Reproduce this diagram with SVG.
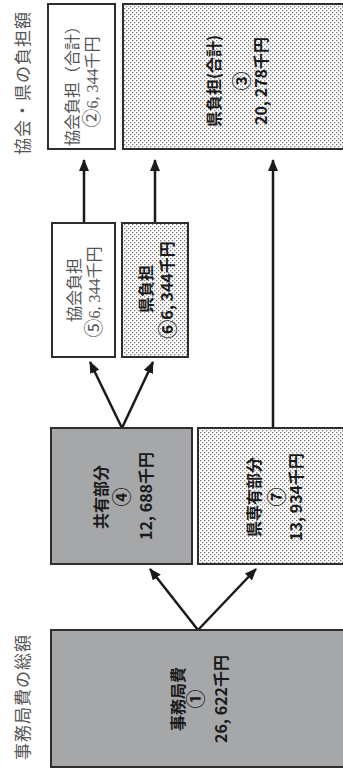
<svg xmlns="http://www.w3.org/2000/svg" width="343" height="769" viewBox="0 0 343 769">
<defs>
<pattern id="dots" width="4" height="4" patternUnits="userSpaceOnUse">
<rect width="4" height="4" fill="#ffffff"/>
<rect x="0" y="0" width="1.3" height="1.3" fill="#7a7a7a"/>
<rect x="2" y="2" width="1.3" height="1.3" fill="#7a7a7a"/>
</pattern>
<marker id="ah" markerUnits="userSpaceOnUse" markerWidth="12" markerHeight="10" refX="11" refY="5" orient="auto">
<path d="M0,0 L12,5 L0,10 z" fill="#1a1a1a"/>
</marker>
<style>
.box{stroke:#2e2e2e;stroke-width:2}
.white{fill:#ffffff}
.dot{fill:url(#dots)}
.gray{fill:#a6a7a9}
.conn{stroke:#1a1a1a;stroke-width:2.5;fill:none;marker-end:url(#ah)}
.title{font-family:"Liberation Serif","Noto Sans CJK JP",serif;font-size:17px;fill:#555555;letter-spacing:1px}
.ser{font-family:"Liberation Serif","Noto Sans CJK JP",serif;font-size:16px;fill:#555555}
.bold{font-family:"Noto Sans CJK JP",sans-serif;font-size:16px;font-weight:bold;fill:#1a1a1a}
.circ{font-size:19px}
text{text-anchor:middle;dominant-baseline:central}
</style>
</defs>
<g id="title-top"><text class="title" transform="translate(23,83) rotate(-90)">協会・県の負担額</text></g>
<g id="title-bottom"><text class="title" transform="translate(23,697) rotate(-90)">事務局費の総額</text></g>

<g id="connectors">
<line class="conn" x1="84" y1="223" x2="84" y2="160"/>
<line class="conn" x1="155" y1="223" x2="155" y2="160"/>
<line class="conn" x1="273" y1="428" x2="273" y2="160"/>
<line class="conn" x1="122" y1="428" x2="90" y2="362"/>
<line class="conn" x1="122" y1="428" x2="153" y2="362"/>
<line class="conn" x1="198" y1="630" x2="150" y2="569"/>
<line class="conn" x1="198" y1="630" x2="256" y2="569"/>
</g>

<g id="kyokai-total">
<rect class="box white" x="48" y="4" width="67" height="145"/>
<text class="ser" transform="translate(72,82) rotate(-90)">協会負担（合計）</text>
<text class="ser" transform="translate(92,82) rotate(-90)"><tspan class="circ">②</tspan>6, 344千円</text>
</g>
<g id="ken-total">
<rect class="box dot" x="123" y="4" width="232" height="145"/>
<text class="bold" transform="translate(213,81) rotate(-90)">県負担(合計)</text>
<text class="bold circ" transform="translate(240,81) rotate(-90)">③</text>
<text class="bold" transform="translate(260,81) rotate(-90)">20, 278千円</text>
</g>
<g id="kyokai-share">
<rect class="box white" x="52" y="223" width="63" height="134"/>
<text class="ser" transform="translate(74,290) rotate(-90)">協会負担</text>
<text class="ser" transform="translate(94,292) rotate(-90)"><tspan class="circ">⑤</tspan>6, 344千円</text>
</g>
<g id="ken-share">
<rect class="box dot" x="122" y="223" width="66" height="134"/>
<text class="bold" transform="translate(145,289) rotate(-90)">県負担</text>
<text class="bold" transform="translate(166,290) rotate(-90)"><tspan class="circ">⑥</tspan>6, 344千円</text>
</g>
<g id="kyoyu">
<rect class="box gray" x="51" y="428" width="141" height="136"/>
<text class="bold" transform="translate(100,497) rotate(-90)">共有部分</text>
<text class="bold circ" transform="translate(120,497) rotate(-90)">④</text>
<text class="bold" transform="translate(145,496) rotate(-90)">12, 688千円</text>
</g>
<g id="ken-senyu">
<rect class="box dot" x="198" y="428" width="157" height="136"/>
<text class="bold" transform="translate(253,497) rotate(-90)">県専有部分</text>
<text class="bold circ" transform="translate(275,497) rotate(-90)">⑦</text>
<text class="bold" transform="translate(295,497) rotate(-90)">13, 934千円</text>
</g>
<g id="jimukyoku">
<rect class="box gray" x="51" y="630" width="302" height="137"/>
<text class="bold" transform="translate(177,699) rotate(-90)">事務局費</text>
<text class="bold circ" transform="translate(194,699) rotate(-90)">①</text>
<text class="bold" transform="translate(220,699) rotate(-90)">26, 622千円</text>
</g>
</svg>
